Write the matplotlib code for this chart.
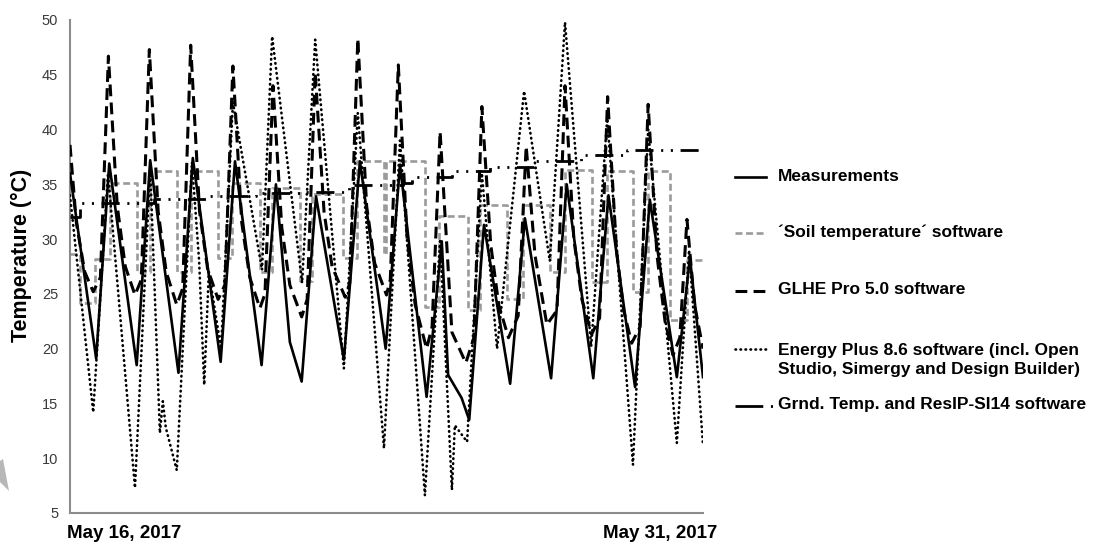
import matplotlib
matplotlib.use("Agg")
import matplotlib.pyplot as plt
import matplotlib.transforms as mtransforms
from matplotlib.lines import Line2D
from matplotlib.patches import Polygon

# ---------------- data (time in days after May 16, 2017 00:00) ----------------
meas_days = [0.00, 0.62, 0.93, 1.58, 1.90, 2.57, 2.91, 3.57, 3.91, 4.54,
             4.88, 5.21, 5.49, 5.83, 6.49, 6.87, 7.48, 7.82, 8.45, 8.81,
             8.96, 9.28, 9.46, 9.81, 10.43, 10.78, 11.40, 11.77, 12.40, 12.76,
             13.39, 13.74, 14.38, 14.69, 15.00]
meas_vals = [36.0, 19.1, 36.9, 18.5, 37.2, 17.8, 37.4, 18.8, 37.1, 18.5,
             35.0, 20.6, 17.0, 33.9, 19.0, 37.1, 20.0, 36.8, 15.6, 29.8,
             17.6, 15.5, 13.5, 31.3, 16.8, 31.9, 17.3, 35.0, 17.3, 34.0,
             16.5, 33.6, 17.4, 28.3, 17.4]

soil_days = [0.00, 0.24, 0.59, 0.95, 1.58, 1.90, 2.53, 2.86, 3.51, 3.84,
             4.50, 4.78, 5.45, 5.73, 6.48, 6.79, 7.45, 7.49, 8.41, 8.75,
             9.42, 9.72, 10.35, 10.74, 11.37, 11.73, 12.36, 12.72, 13.35, 13.70,
             14.22, 14.61, 15.00]
soil_vals = [28.6, 24.2, 28.2, 35.1, 27.0, 36.2, 27.0, 36.2, 28.3, 35.1,
             27.0, 34.7, 26.2, 34.1, 28.3, 37.1, 28.6, 37.1, 23.8, 32.1,
             23.5, 33.1, 24.5, 33.1, 27.0, 36.3, 26.1, 36.2, 25.2, 36.2,
             22.6, 28.1, 28.1]

glhe_days = [0.00, 0.15, 0.35, 0.55, 0.72, 0.91, 1.12, 1.31, 1.54, 1.69,
             1.88, 2.09, 2.28, 2.53, 2.67, 2.86, 3.07, 3.26, 3.51, 3.67,
             3.86, 4.07, 4.26, 4.50, 4.62, 4.81, 5.02, 5.21, 5.49, 5.62,
             5.81, 6.02, 6.21, 6.52, 6.63, 6.82, 7.03, 7.22, 7.50, 7.59,
             7.78, 7.99, 8.18, 8.45, 8.58, 8.77, 9.05, 9.38, 9.57, 9.76,
             9.97, 10.16, 10.39, 10.62, 10.81, 11.02, 11.30, 11.54, 11.73, 11.94,
             12.13, 12.36, 12.55, 12.74, 12.95, 13.12, 13.31, 13.51, 13.70, 13.91,
             14.10, 14.29, 14.45, 14.62, 14.80, 15.00]
glhe_vals = [38.6, 31.5, 27.0, 25.2, 26.5, 46.7, 33.0, 27.5, 24.9, 26.3,
             47.3, 32.5, 27.0, 24.0, 25.5, 47.7, 32.5, 27.3, 24.5, 25.8,
             45.8, 31.5, 26.5, 23.7, 25.0, 44.0, 31.0, 25.8, 22.9, 24.5,
             45.2, 32.5, 27.5, 24.7, 26.0, 48.3, 33.0, 27.8, 24.9, 26.3,
             45.9, 30.0, 24.0, 20.0, 22.0, 39.8, 21.5, 18.7, 21.0, 42.1,
             29.5, 24.0, 21.0, 23.0, 38.5, 28.5, 22.2, 23.5, 44.0, 30.0,
             24.5, 21.3, 22.8, 43.0, 29.0, 23.5, 20.5, 22.0, 42.3, 28.5,
             22.5, 19.4, 21.0, 31.8, 24.0, 20.0]

ep_days = [0.00, 0.55, 0.90, 1.54, 1.90, 2.13, 2.20, 2.27, 2.53, 2.89,
           3.06, 3.18, 3.29, 3.58, 3.86, 4.55, 4.79, 5.50, 5.81, 6.49,
           6.82, 7.44, 7.82, 8.41, 8.77, 9.05, 9.12, 9.41, 9.76, 10.12,
           10.76, 11.37, 11.73, 12.35, 12.73, 13.34, 13.70, 14.38, 14.67, 15.00]
ep_vals = [34.0, 14.2, 36.0, 7.3, 36.5, 12.3, 15.2, 12.8, 8.9, 37.0,
           28.0, 16.7, 27.0, 20.0, 42.5, 27.2, 48.5, 26.0, 48.2, 18.2,
           41.5, 10.9, 39.0, 6.6, 30.0, 7.1, 13.0, 11.5, 36.0, 20.0,
           43.5, 28.0, 49.8, 20.2, 41.0, 9.4, 40.0, 11.4, 29.0, 11.2]

grnd_days = [0.00, 0.24, 2.00, 3.30, 4.40, 5.50, 6.60, 7.90, 8.10, 9.06,
             9.95, 11.00, 12.10, 13.20, 15.00]
grnd_vals = [32.0, 33.3, 33.7, 33.9, 34.2, 34.3, 34.9, 35.1, 35.7, 36.2,
             36.6, 37.1, 37.7, 38.1, 38.1]

y_ticks = [5, 10, 15, 20, 25, 30, 35, 40, 45, 50]
x_tick_days = [0, 15]
x_labels = ["May 16, 2017", "May 31, 2017"]
y_label = "Temperature (°C)"
legend_labels = [
    "Measurements",
    "´Soil temperature´ software",
    "GLHE Pro 5.0 software",
    "Energy Plus 8.6 software (incl. Open\nStudio, Simergy and Design Builder)",
    "Grnd. Temp. and ResIP-SI14 software",
]

# ---------------- styling ----------------
plt.rcParams["font.family"] = ["Liberation Sans", "DejaVu Sans"]
plt.rcParams["lines.scale_dashes"] = False

W, H = 1103, 547
fig = plt.figure(figsize=(W / 100, H / 100), dpi=100)
ax = fig.add_axes([70 / W, 1 - 513 / H, 633 / W, 493 / H])

styles = [
    dict(color="black", lw=1.9, linestyle="-"),
    dict(color="#9b9b9b", lw=1.9, dashes=(5, 2.6)),
    dict(color="black", lw=2.2, dashes=(8.5, 4.5)),
    dict(color="black", lw=1.9, dashes=(0.4, 3.2), dash_capstyle="round"),
    dict(color="black", lw=2.0, dashes=(13, 5.5, 1.5, 5.5, 1.5, 5.5)),
]

ax.plot(soil_days, soil_vals, drawstyle="steps-post", zorder=2, **styles[1])
ax.plot(grnd_days, grnd_vals, drawstyle="steps-post", zorder=3, **styles[4])
ax.plot(ep_days, ep_vals, zorder=4, **styles[3])
ax.plot(glhe_days, glhe_vals, zorder=5, **styles[2])
ax.plot(meas_days, meas_vals, zorder=6, **styles[0])

ax.set_xlim(0, 15)
ax.set_ylim(5, 50)
ax.set_yticks(y_ticks)
ax.set_yticklabels([str(v) for v in y_ticks], fontsize=10.5, color="#3a3a3a")
ax.set_xticks(x_tick_days)
ax.set_xticklabels(x_labels, fontsize=13.5, fontweight="bold", color="black")
ax.tick_params(axis="y", length=0, pad=8.5)
ax.tick_params(axis="x", length=0, pad=9)

xl = ax.get_xticklabels()
xl[0].set_ha("left")
xl[0].set_transform(xl[0].get_transform() + mtransforms.ScaledTranslation(-0.03, 0, fig.dpi_scale_trans))
xl[1].set_ha("right")
xl[1].set_transform(xl[1].get_transform() + mtransforms.ScaledTranslation(0.14, 0, fig.dpi_scale_trans))

for s in ("top", "right"):
    ax.spines[s].set_visible(False)
for s in ("left", "bottom"):
    ax.spines[s].set_color("#8c8c8c")
    ax.spines[s].set_linewidth(1.5)

ax.set_ylabel(y_label, fontsize=15.5, fontweight="bold")
ax.yaxis.set_label_coords(-0.060, 0.523)

# ---------------- manual legend on the right ----------------
def fx(px):
    return px / W

def fy(py):
    return 1 - py / H

entry_y = [176, 232, 290, 348, 405]
for i, lab in enumerate(legend_labels):
    y = entry_y[i]
    st = dict(styles[i])
    x1 = 766
    if i == 4:
        st["dashes"] = (20, 5.5, 1.5, 6)
        x1 = 775
    fig.add_artist(Line2D([fx(735), fx(x1)], [fy(y + 1), fy(y + 1)],
                          transform=fig.transFigure, **st))
    if "\n" in lab:
        fig.text(fx(778), fy(y + 12), lab, fontsize=12.5, fontweight="bold",
                 va="center", ha="left", linespacing=1.36)
    else:
        fig.text(fx(778), fy(y), lab, fontsize=12.5, fontweight="bold",
                 va="center", ha="left")

# faint grey watermark fragment at the lower-left edge
fig.add_artist(Polygon([(fx(0), fy(461)), (fx(3), fy(459)), (fx(9), fy(491)), (fx(0), fy(482))],
                       closed=True, transform=fig.transFigure, facecolor="#b8b8b8",
                       edgecolor="none"))

fig.savefig("out.png", dpi=100)
